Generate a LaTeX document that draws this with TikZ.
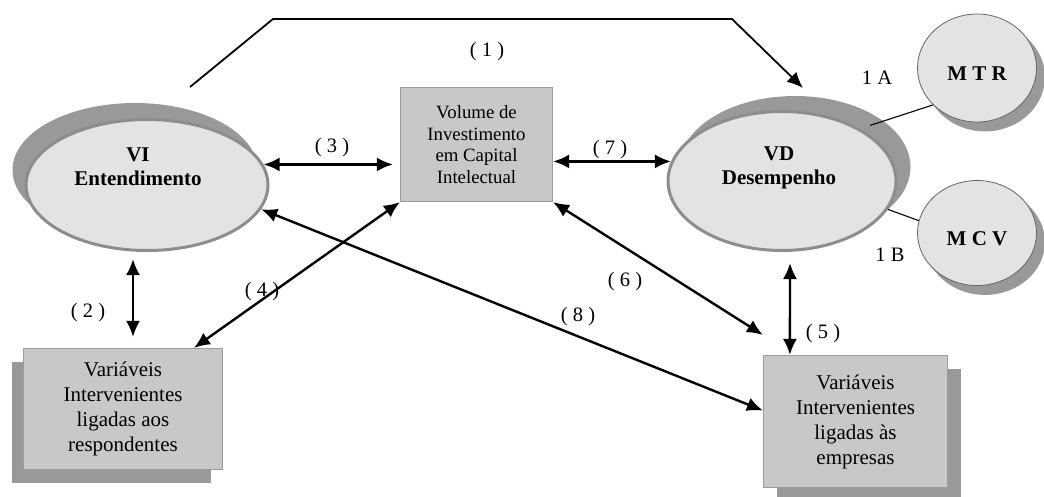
\documentclass[tikz,border=0pt]{standalone}
\usepackage{fontspec}
\setmainfont{Liberation Serif}
\usetikzlibrary{shapes.geometric,arrows.meta,shadows}

\definecolor{ellfill}{HTML}{E3E3E5}
\definecolor{ellline}{HTML}{8C8D8F}
\definecolor{shadegray}{HTML}{98999B}
\definecolor{boxfill}{HTML}{C8C8CA}
\definecolor{boxline}{HTML}{9A9B9D}

\tikzset{
  bigell/.style={ellipse, fill=ellfill, draw=ellline, line width=3pt, inner sep=0pt},
  elltxt/.style={align=center, font=\bfseries\fontsize{21}{24}\selectfont},
  smallell/.style={ellipse, fill=ellfill, draw=black!60, line width=0.8pt, inner sep=0pt,
    minimum width=119pt, text height=24pt, text depth=0pt,
    font=\bfseries\fontsize{21}{24}\selectfont,
    copy shadow={shadow xshift=8pt, shadow yshift=-9pt, fill=shadegray, draw=shadegray}},
  varbox/.style={rectangle, fill=boxfill, draw=boxline, line width=1.2pt, align=center,
    inner sep=0pt, font=\fontsize{21}{25}\selectfont},
  lbl/.style={inner sep=1pt, font=\fontsize{20.5}{22}\selectfont},
  dbl/.style={{Latex[length=16pt,width=14pt]}-{Latex[length=16pt,width=14pt]}, line width=2.4pt},
  onearrow/.style={-{Latex[length=16pt,width=14pt]}, line width=1.8pt},
  tie/.style={line width=1.1pt}
}

\begin{document}
\begin{tikzpicture}[x=1pt,y=-1pt]
  \useasboundingbox (0,0) rectangle (1044,496);

  % ellipses
  \node[bigell, minimum width=242pt, minimum height=131pt,
    copy shadow={shadow xshift=-12pt, shadow yshift=15pt, fill=shadegray, draw=shadegray}]
    (vi) at (147,185) {};
  \node[elltxt] (vitxt) at ([xshift=-9pt,yshift=18pt]vi.center) {VI\\Entendimento};
  \node[bigell, minimum width=228pt, minimum height=139pt,
    copy shadow={shadow xshift=13pt, shadow yshift=14pt, fill=shadegray, draw=shadegray}]
    (vd) at (782,181) {};
  \node[elltxt] (vdtxt) at ([xshift=-3pt,yshift=13pt]vd.center) {VD\\Desempenho};
  \node[smallell, minimum height=108pt] (mtr) at (977,68) {M T R};
  \node[smallell, minimum height=105pt] (mcv) at (977,233) {M C V};

  % boxes
  \node[rectangle, fill=boxfill, draw=boxline, line width=1.2pt, align=center, inner sep=0pt,
    minimum width=152pt, minimum height=114pt, font=\fontsize{18.8}{21.5}\selectfont]
    (vic) at (476.5,144.5) {Volume de\\Investimento\\em Capital\\Intelectual};
  \node[varbox, minimum width=199pt, minimum height=121pt,
    copy shadow={shadow xshift=-12pt, shadow yshift=-13pt, fill=shadegray, draw=none}]
    (resp) at (123,409) {Variáveis\\Intervenientes\\ligadas aos\\respondentes};
  \node[varbox, minimum width=184pt, minimum height=132pt,
    copy shadow={shadow xshift=13pt, shadow yshift=-13pt, fill=shadegray, draw=none}]
    (empr) at (855.5,421.5) {Variáveis\\Intervenientes\\ligadas às\\empresas};

  % labels
  \node[lbl] (l1) at (487,52) {( 1 )};
  \node[lbl] (l2) at (88,313) {( 2 )};
  \node[lbl] (l3) at (332,148) {( 3 )};
  \node[lbl] (l4) at (262,292) {( 4 )};
  \node[lbl] (l5) at (823,334) {( 5 )};
  \node[lbl] (l6) at (625,282) {( 6 )};
  \node[lbl] (l7) at (610,150) {( 7 )};
  \node[lbl] (l8) at (578,317) {( 8 )};
  \node[lbl] (la) at (877,78) {1 A};
  \node[lbl] (lb) at (890,255) {1 B};

  % connectors
  \draw[onearrow] ([xshift=43pt,yshift=31pt]vi.north) -- ++(83,-68) -- ++(459,0)
    -- ([xshift=21pt,yshift=22pt]vd.north);
  \draw[dbl, shorten >=7pt] (vi.10) -- (vi.10 -| vic.west);
  \draw[dbl] (vic.east |- vd.170) -- (vd.170);
  \draw[dbl] ([xshift=-14pt,yshift=-7pt]vi.south) -- ([xshift=10pt,yshift=11pt]resp.north);
  \draw[dbl] (vic.south west) -- ([xshift=71pt]resp.north);
  \draw[dbl] (vic.south east) -- ([yshift=20pt]empr.north west);
  \draw[dbl] ([xshift=8pt,yshift=-11pt]vd.south) -- ([xshift=27pt]empr.north west);
  \draw[dbl] (vi.348) -- ([yshift=11pt]empr.west);
  \draw[tie] ([shift={(4,-7)}]vd.30) -- (mtr.220);
  \draw[tie] (vd.345) -- (mcv.168);
\end{tikzpicture}
\end{document}
